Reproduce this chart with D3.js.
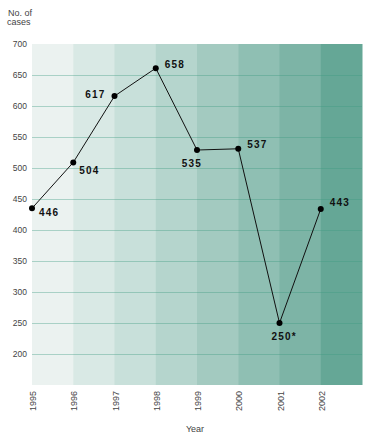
<!DOCTYPE html>
<html>
<head>
<meta charset="utf-8">
<script src="https://cdn.jsdelivr.net/npm/d3@7"></script>
<style>
  html, body { margin: 0; padding: 0; background: #ffffff; }
  svg { display: block; font-family: "Liberation Sans", Arial, sans-serif; }
</style>
</head>
<body>
<svg id="chart" width="366" height="440"></svg>
<script>
// ---- Data ----
const years = ["1995", "1996", "1997", "1998", "1999", "2000", "2001", "2002"];
const plotted = [435, 509, 616, 661, 529, 531, 250, 434];   // point positions as drawn
const valueLabels = ["446", "504", "617", "658", "535", "537", "250*", "443"];
const yTicks = [200, 250, 300, 350, 400, 450, 500, 550, 600, 650, 700];
const gridValues = [200, 250, 300, 350, 400, 450, 500, 550, 600, 650];
const bandColors = ["#ebf2f0", "#d9e9e5", "#c8e0da", "#b5d5cd", "#a3cac0", "#8fbfb3", "#7db4a6", "#65a796"];
const labelOffsets = [
  { dx: 7, dy: 8, anchor: "start" },
  { dx: 6, dy: 12, anchor: "start" },
  { dx: -9, dy: 1.5, anchor: "end" },
  { dx: 9, dy: 0, anchor: "start" },
  { dx: 5, dy: 17, anchor: "end" },
  { dx: 9, dy: -1, anchor: "start" },
  { dx: -8, dy: 17, anchor: "start" },
  { dx: 9, dy: -3, anchor: "start" }
];

// ---- Layout ----
const svg = d3.select("#chart");
const mLeft = 32, mRight = 362, mTop = 44, mBottom = 385;

const x = d3.scaleBand().domain(years).range([mLeft, mRight]).paddingInner(0).paddingOuter(0);
const y = d3.scaleLinear().domain([150, 700]).range([mBottom, mTop]);

// Bands
svg.append("g").selectAll("rect").data(years).join("rect")
  .attr("x", d => x(d))
  .attr("y", mTop)
  .attr("width", x.bandwidth() + 0.5)
  .attr("height", mBottom - mTop)
  .attr("fill", (d, i) => bandColors[i]);

// Grid lines
svg.append("g").selectAll("line").data(gridValues).join("line")
  .attr("x1", mLeft).attr("x2", mRight)
  .attr("y1", d => Math.round(y(d)) + 0.5).attr("y2", d => Math.round(y(d)) + 0.5)
  .attr("stroke", "#3f9c82").attr("stroke-opacity", 0.38).attr("stroke-width", 1);

// Y axis labels
const yAxis = d3.axisLeft(y).tickValues(yTicks).tickSize(0).tickPadding(5);
const yg = svg.append("g").attr("transform", `translate(${mLeft},0)`).call(yAxis);
yg.select(".domain").remove();
yg.selectAll("text").attr("font-size", "8.5px").attr("fill", "#444")
  .attr("font-family", "'Liberation Sans', Arial, sans-serif");

// X axis labels (rotated)
const xAxis = d3.axisBottom(x).tickSize(0).tickFormat(d => d);
const xg = svg.append("g").attr("transform", `translate(0,${mBottom})`).call(xAxis);
xg.select(".domain").remove();
xg.selectAll(".tick").attr("transform", d => `translate(${x(d)},0)`);
xg.selectAll("text")
  .attr("font-size", "9px").attr("fill", "#444")
  .attr("font-family", "'Liberation Sans', Arial, sans-serif")
  .attr("text-anchor", "end")
  .attr("dy", null)
  .attr("y", null)
  .attr("transform", "translate(4,6) rotate(-90)");

// Line
const pts = years.map((d, i) => [x(d), y(plotted[i])]);
svg.append("path")
  .attr("d", d3.line()(pts))
  .attr("fill", "none").attr("stroke", "#111").attr("stroke-width", 1);

// Dots
svg.append("g").selectAll("circle").data(pts).join("circle")
  .attr("cx", d => d[0]).attr("cy", d => d[1]).attr("r", 3)
  .attr("fill", "#000");

// Value labels
svg.append("g").selectAll("text").data(pts).join("text")
  .attr("x", (d, i) => d[0] + labelOffsets[i].dx)
  .attr("y", (d, i) => d[1] + labelOffsets[i].dy)
  .attr("text-anchor", (d, i) => labelOffsets[i].anchor)
  .attr("font-size", "10px").attr("font-weight", "bold")
  .attr("letter-spacing", "1.2px").attr("fill", "#111")
  .text((d, i) => valueLabels[i]);

// Titles
svg.append("text").attr("x", 8).attr("y", 15.5).attr("font-size", "9px").attr("fill", "#444").text("No. of");
svg.append("text").attr("x", 7).attr("y", 25).attr("font-size", "9px").attr("fill", "#444").text("cases");
svg.append("text").attr("x", (mLeft + mRight) / 2 - 2).attr("y", 432).attr("text-anchor", "middle")
  .attr("font-size", "9px").attr("fill", "#444").text("Year");
</script>
</body>
</html>
